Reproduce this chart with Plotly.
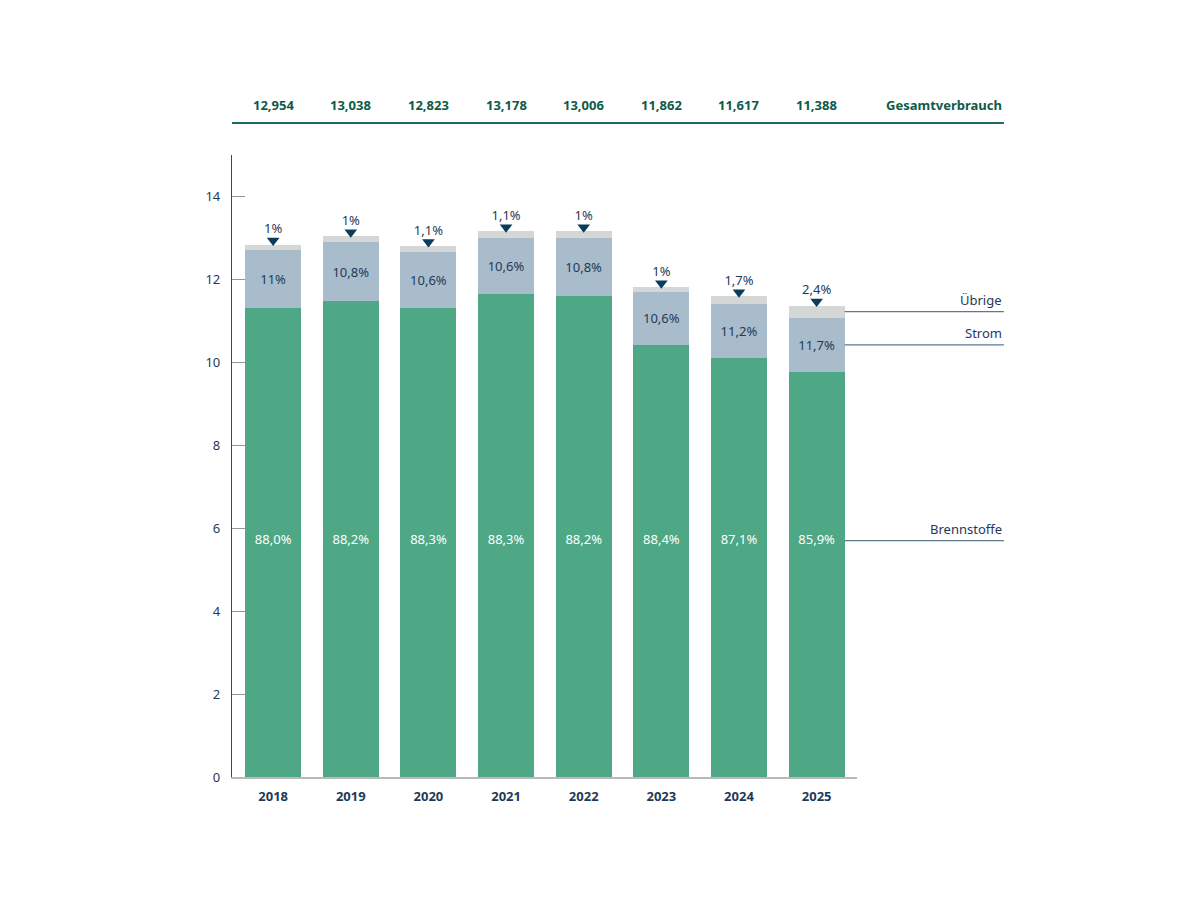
import plotly.graph_objects as go

# Daten
jahre = ["2018", "2019", "2020", "2021", "2022", "2023", "2024", "2025"]
gesamt = [12.954, 13.038, 12.823, 13.178, 13.006, 11.862, 11.617, 11.388]
brennstoffe = [11.30, 11.49, 11.30, 11.64, 11.61, 10.43, 10.10, 9.76]
strom = [1.40, 1.40, 1.35, 1.37, 1.40, 1.26, 1.30, 1.32]
uebrige = [0.14, 0.15, 0.15, 0.15, 0.15, 0.12, 0.19, 0.29]
pct_brennstoffe = ["88,0%", "88,2%", "88,3%", "88,3%", "88,2%", "88,4%", "87,1%", "85,9%"]
pct_strom = ["11%", "10,8%", "10,6%", "10,6%", "10,8%", "10,6%", "11,2%", "11,7%"]
pct_uebrige = ["1%", "1%", "1,1%", "1,1%", "1%", "1%", "1,7%", "2,4%"]
y_ticks = [0, 2, 4, 6, 8, 10, 12, 14]

# Farben
GRUEN = "#4ea785"
BLAU = "#a9bccb"
GRAU = "#d5d6d6"
NAVY = "#1f3a57"
DUNKELGRUEN = "#0f5a48"
FONT = "Noto Sans"

Y_MAX = 15

fig = go.Figure()

fig.add_trace(go.Bar(
    x=jahre, y=brennstoffe, name="Brennstoffe",
    marker=dict(color=GRUEN, line_width=0),
    hoverinfo="skip"
))
fig.add_trace(go.Bar(
    x=jahre, y=strom, name="Strom",
    marker=dict(color=BLAU, line_width=0),
    text=pct_strom, textposition="inside", insidetextanchor="middle",
    textfont=dict(color=NAVY, size=13, family=FONT),
    hoverinfo="skip"
))
fig.add_trace(go.Bar(
    x=jahre, y=uebrige, name="Übrige",
    marker=dict(color=GRAU, line_width=0),
    hoverinfo="skip"
))

# Prozent Brennstoffe (weiß, auf fester Höhe)
fig.add_trace(go.Scatter(
    x=jahre, y=[5.7] * len(jahre), mode="text",
    text=pct_brennstoffe,
    textfont=dict(color="white", size=13, family=FONT),
    hoverinfo="skip"
))

# Dreiecke + Prozent Übrige
summen = [b + s + u for b, s, u in zip(brennstoffe, strom, uebrige)]
fig.add_trace(go.Scatter(
    x=jahre, y=[s + 0.1 for s in summen], mode="markers",
    marker=dict(symbol="triangle-down", size=11, color="#0d3b5c"),
    cliponaxis=False,
    hoverinfo="skip"
))
fig.add_trace(go.Scatter(
    x=jahre, y=[s + 0.35 for s in summen], mode="text",
    text=pct_uebrige,
    textfont=dict(color=NAVY, size=13, family=FONT),
    cliponaxis=False,
    hoverinfo="skip"
))

X_END = 1.235  # rechtes Ende der Linien (paper)

# Gesamtverbrauch oben
for i, g in enumerate(gesamt):
    fig.add_annotation(
        x=i, xref="x", y=1.080, yref="paper", yanchor="middle",
        text="<b>" + f"{g:.3f}".replace(".", ",") + "</b>",
        showarrow=False, font=dict(color=DUNKELGRUEN, size=13, family=FONT)
    )
fig.add_annotation(
    x=X_END, xref="paper", y=1.080, yref="paper",
    xanchor="right", yanchor="middle",
    text="<b>Gesamtverbrauch</b>", showarrow=False,
    font=dict(color=DUNKELGRUEN, size=13, family=FONT)
)
fig.add_shape(
    type="line", xref="paper", yref="paper",
    x0=0, x1=X_END, y0=1.0514, y1=1.0514,
    line=dict(color="#1b6b63", width=2)
)

# Legende rechts mit Linien
b_last, s_last, u_last = brennstoffe[-1], strom[-1], uebrige[-1]
legende = [
    ("Übrige", b_last + s_last + u_last / 2),
    ("Strom", b_last + s_last / 2),
    ("Brennstoffe", 5.7),
]
x_start = 0.98  # rechte Kante des letzten Balkens (paper)
for name, yv in legende:
    yp = yv / Y_MAX
    fig.add_shape(
        type="line", xref="paper", yref="paper",
        x0=x_start, x1=X_END, y0=yp, y1=yp,
        line=dict(color="#5b7a8f", width=1.3)
    )
    fig.add_annotation(
        x=X_END, xref="paper", y=yp, yref="paper",
        xanchor="right", yanchor="bottom", yshift=1,
        text=name, showarrow=False,
        font=dict(color=NAVY, size=13, family=FONT)
    )

fig.update_layout(
    barmode="stack",
    bargap=0.28,
    showlegend=False,
    width=1200, height=900,
    margin=dict(l=224, r=351, t=147, b=131),
    paper_bgcolor="white",
    plot_bgcolor="white",
    font=dict(family=FONT, color=NAVY),
    xaxis=dict(
        type="category",
        range=[-0.53, 7.52],
        showline=True, linecolor="#b9b9b9", linewidth=1.5,
        ticks="", showgrid=False, zeroline=False,
        tickfont=dict(size=13, color=NAVY, family=FONT, weight="bold"),
        ticklabelstandoff=7
    ),
    yaxis=dict(
        range=[0, Y_MAX],
        tickvals=y_ticks,
        showline=True, linecolor="#2c4a66", linewidth=1.2,
        ticks="inside", ticklen=13, tickcolor="#8a98a4", tickwidth=1.2,
        showgrid=False, zeroline=False,
        tickfont=dict(size=13, color=NAVY, family=FONT),
        ticklabelstandoff=8
    ),
)

fig.write_html("out.html")
